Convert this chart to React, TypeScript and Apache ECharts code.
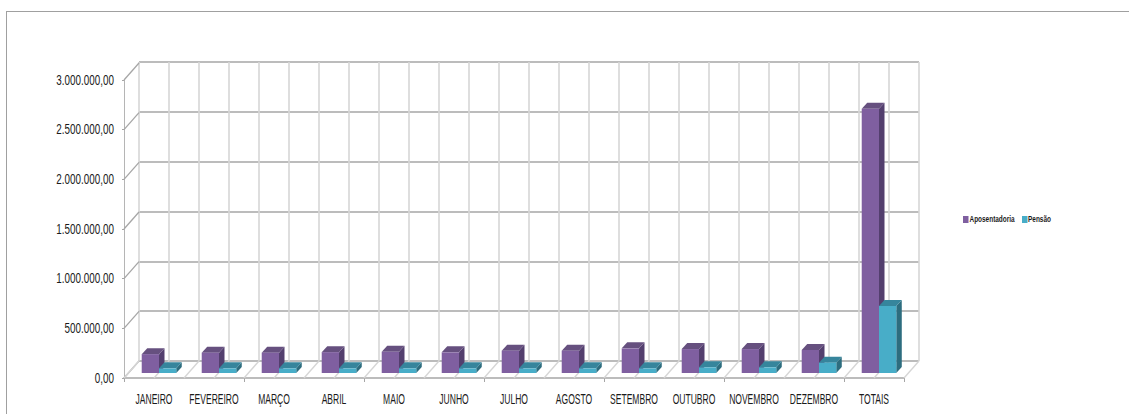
import React, { useEffect, useRef } from "react";
import * as echarts from "echarts";

const categories = ["JANEIRO", "FEVEREIRO", "MARÇO", "ABRIL", "MAIO", "JUNHO", "JULHO", "AGOSTO", "SETEMBRO", "OUTUBRO", "NOVEMBRO", "DEZEMBRO", "TOTAIS"];
const aposentadoria = [190000, 205000, 205000, 210000, 214000, 208000, 225000, 225000, 248000, 241000, 241000, 232000, 2660000];
const pensao = [47000, 47000, 47000, 47000, 47000, 47000, 47000, 47000, 47000, 57000, 57000, 104000, 675000];
const yTicks = [0, 500000, 1000000, 1500000, 2000000, 2500000, 3000000];
const halfSteps = categories.flatMap((_, i) => [i, i + 0.5]).concat([categories.length]);

const fontFamily = '"Liberation Sans", sans-serif';
const formatBR = (v: number) =>
  v === 0 ? "0,00" : v.toString().replace(/\B(?=(\d{3})+$)/g, ".") + ",00";

const DEPTH_X = 15;
const DEPTH_Y = 17;
const TEXT_COLOR = "#1a1a1a";

const barRender = (offset: number, colors: { front: string; top: string; side: string }) => (params: any, api: any) => {
  const band = api.size([1, 0])[0];
  const [cx, yTop] = api.coord([api.value(0), api.value(1)]);
  const [, yBase] = api.coord([api.value(0), 0]);
  const w = band * 0.288;
  const dx = 5.5;
  const dy = 6;
  const x0 = cx + 5 + (offset - 1) * w;
  const x1 = x0 + w;
  const t = yTop - 5;
  const b = yBase - 5;
  return {
    type: "group",
    children: [
      { type: "polygon", shape: { points: [[x1, t], [x1 + dx, t - dy], [x1 + dx, b - dy], [x1, b]] }, style: { fill: colors.side } },
      { type: "polygon", shape: { points: [[x0, t], [x0 + dx, t - dy], [x1 + dx, t - dy], [x1, t]] }, style: { fill: colors.top } },
      { type: "rect", shape: { x: x0, y: t, width: w, height: b - t }, style: { fill: colors.front } },
    ],
  };
};

export default function App() {
  const ref = useRef<HTMLDivElement>(null);
  useEffect(() => {
    document.body.style.margin = "0";
    const chart = echarts.init(ref.current!, undefined, { renderer: "svg" });
    chart.setOption({
      animation: false,
      backgroundColor: "#ffffff",
      textStyle: { fontFamily },
      grid: [
        { left: 139, top: 62, width: 780, height: 299 },
        { left: 124, top: 80, width: 780, height: 298 },
      ],
      xAxis: [
        {
          type: "value", gridIndex: 0, min: 0, max: 26, interval: 1, silent: true,
          axisLabel: { show: false }, axisTick: { show: false }, axisLine: { show: false },
          splitLine: { show: true, lineStyle: { color: "#d6d6d6", width: 1.6 } },
        },
        {
          type: "category", gridIndex: 1, data: categories, boundaryGap: true,
          axisLine: { lineStyle: { color: "#a6a6a6", width: 1.5 } },
          axisTick: { show: true, length: 4, lineStyle: { color: "#a6a6a6", width: 1 } },
          axisLabel: { show: false },
          splitLine: { show: false },
        },
      ],
      yAxis: [
        {
          type: "value", gridIndex: 0, min: 0, max: 3000000, interval: 500000, silent: true,
          axisLabel: { show: false }, axisTick: { show: false }, axisLine: { show: false },
          splitLine: { show: true, lineStyle: { color: "#a6a6a6", width: 1.5 } },
        },
        {
          type: "value", gridIndex: 1, min: 0, max: 3000000, interval: 500000,
          axisLine: { show: true, lineStyle: { color: "#b5b5b5", width: 1 } },
          axisTick: { show: true, length: 2, lineStyle: { color: "#a6a6a6" } },
          axisLabel: { show: false },
          splitLine: { show: false },
        },
      ],
      graphic: [
        { type: "line", silent: true, shape: { x1: 6, y1: 11.5, x2: 1129, y2: 11.5 }, style: { stroke: "#a0a0a0", lineWidth: 1 } },
        { type: "line", silent: true, shape: { x1: 6.5, y1: 11, x2: 6.5, y2: 414 }, style: { stroke: "#a0a0a0", lineWidth: 1 } },
        { type: "rect", silent: true, shape: { x: 963, y: 216, width: 5.5, height: 7 }, style: { fill: "#7f5fa0" } },
        { type: "text", silent: true, x: 969.5, y: 219.5, scaleX: 0.76, style: { text: "Aposentadoria", fontSize: 8.5, fontWeight: "bold", fontFamily, fill: TEXT_COLOR, align: "left", verticalAlign: "middle" } },
        { type: "rect", silent: true, shape: { x: 1022, y: 216, width: 5.5, height: 7 }, style: { fill: "#48adc8" } },
        { type: "text", silent: true, x: 1028, y: 219.5, scaleX: 0.76, style: { text: "Pensão", fontSize: 8.5, fontWeight: "bold", fontFamily, fill: TEXT_COLOR, align: "left", verticalAlign: "middle" } },
      ],
      series: [
        {
          // side wall diagonals at every value tick
          type: "custom", name: "wall", xAxisIndex: 1, yAxisIndex: 1, silent: true, clip: false,
          data: yTicks.map((v) => [0, v]),
          renderItem: (p: any, api: any) => {
            const band = api.size([1, 0])[0];
            const [cx, y] = api.coord([0, api.value(1)]);
            const x = cx - band / 2;
            return { type: "line", shape: { x1: x, y1: y, x2: x + DEPTH_X, y2: y - DEPTH_Y }, style: { stroke: "#a6a6a6", lineWidth: 1.3 } };
          },
        },
        {
          // floor diagonals at every half category
          type: "custom", name: "floor", xAxisIndex: 1, yAxisIndex: 1, silent: true, clip: false,
          data: halfSteps.map((k) => [k, 0]),
          renderItem: (p: any, api: any) => {
            const band = api.size([1, 0])[0];
            const [cx, y] = api.coord([0, 0]);
            const x = cx - band / 2 + api.value(0) * band;
            return { type: "line", shape: { x1: x, y1: y, x2: x + DEPTH_X, y2: y - DEPTH_Y }, style: { stroke: "#d6d6d6", lineWidth: 1.4 } };
          },
        },
        {
          // condensed value-axis labels
          type: "custom", name: "yLabels", xAxisIndex: 1, yAxisIndex: 1, silent: true, clip: false,
          data: yTicks.map((v) => [0, v]),
          renderItem: (p: any, api: any) => {
            const band = api.size([1, 0])[0];
            const [cx, y] = api.coord([0, api.value(1)]);
            return {
              type: "text", x: cx - band / 2 - 10, y, scaleX: 0.705,
              style: { text: formatBR(api.value(1)), fontSize: 14, fontFamily, fill: TEXT_COLOR, align: "right", verticalAlign: "middle" },
            };
          },
        },
        {
          // condensed category labels
          type: "custom", name: "xLabels", xAxisIndex: 1, yAxisIndex: 1, silent: true, clip: false,
          data: categories.map((_, i) => [i, 0]),
          renderItem: (p: any, api: any) => {
            const i = api.value(0);
            const [cx, y] = api.coord([i, 0]);
            return {
              type: "text", x: cx, y: y + 21, scaleX: 0.61,
              style: { text: categories[i], fontSize: 14, fontFamily, fill: TEXT_COLOR, align: "center", verticalAlign: "middle" },
            };
          },
        },
        {
          type: "custom", name: "Aposentadoria", xAxisIndex: 1, yAxisIndex: 1, clip: false,
          data: aposentadoria.map((v, i) => [i, v]),
          encode: { x: 0, y: 1 },
          renderItem: barRender(0, { front: "#7f5fa0", top: "#66507f", side: "#533f6e" }),
        },
        {
          type: "custom", name: "Pensão", xAxisIndex: 1, yAxisIndex: 1, clip: false,
          data: pensao.map((v, i) => [i, v]),
          encode: { x: 0, y: 1 },
          renderItem: barRender(1, { front: "#48adc8", top: "#36859c", side: "#2d6d7f" }),
        },
      ],
    });
    return () => chart.dispose();
  }, []);
  return <div ref={ref} style={{ position: "fixed", left: 0, top: 0, width: 1129, height: 414 }} />;
}
